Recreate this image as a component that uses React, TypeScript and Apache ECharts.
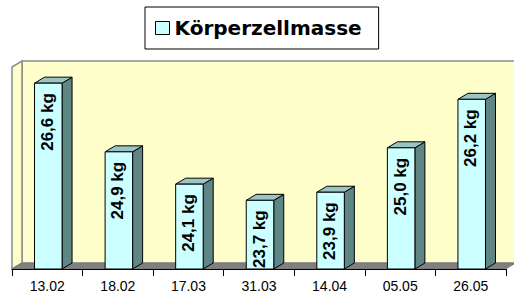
import React, { useEffect, useRef } from "react";
import * as echarts from "echarts";

const categories = ["13.02", "18.02", "17.03", "31.03", "14.04", "05.05", "26.05"];
const values = [26.6, 24.9, 24.1, 23.7, 23.9, 25.0, 26.2];
const seriesName = "Körperzellmasse";
const unit = " kg";

const Y_MIN = 22;
const Y_MAX = 27;

// layout (pixels)
const W = 514;
const H = 300;
const GRID_LEFT = 12;
const GRID_RIGHT_X = 506;
const GRID_TOP = 67;
const FLOOR_Y = 269;
const DX = 10;
const DY = 6;

const FRONT = "#CCFFFF";
const SIDE = "#5F8585";
const TOP = "#9CC4C4";
const WALL = "#FFFFCC";
const WALL_EDGE = "#8C8C8C";
const FLOOR = "#808080";

function fmt(v: number) {
  return v.toFixed(1).replace(".", ",") + unit;
}

export default function App() {
  const ref = useRef<HTMLDivElement>(null);
  useEffect(() => {
    if (!ref.current) return;
    const chart = echarts.init(ref.current, undefined, { renderer: "svg" });
    const data = values.map((v, i) => [i, v]);
    chart.setOption({
      animation: false,
      backgroundColor: "#ffffff",
      legend: {
        left: 145,
        top: 7,
        padding: [11, 17, 11, 10],
        borderColor: "#000",
        borderWidth: 1,
        icon: "rect",
        itemWidth: 14,
        itemHeight: 13,
        data: [
          {
            name: seriesName,
            itemStyle: { color: FRONT, borderColor: "#000", borderWidth: 1 },
          },
        ],
        textStyle: {
          fontFamily: "DejaVu Sans",
          fontWeight: "bold",
          fontSize: 20,
          color: "#000",
        },
        selectedMode: false,
      },
      grid: {
        left: GRID_LEFT,
        right: W - GRID_RIGHT_X,
        top: GRID_TOP,
        bottom: H - FLOOR_Y,
        containLabel: false,
      },
      graphic: [
        {
          type: "rect",
          z: -10,
          shape: { x: GRID_LEFT + DX, y: GRID_TOP - DY, width: W, height: FLOOR_Y - GRID_TOP },
          style: { fill: WALL, stroke: WALL_EDGE, lineWidth: 1.5 },
        },
        {
          type: "polygon",
          z: -9,
          shape: {
            points: [
              [GRID_LEFT, GRID_TOP],
              [GRID_LEFT + DX, GRID_TOP - DY],
              [GRID_LEFT + DX, FLOOR_Y - DY],
              [GRID_LEFT, FLOOR_Y],
            ],
          },
          style: { fill: WALL, stroke: WALL_EDGE, lineWidth: 1.5 },
        },
        {
          type: "polygon",
          z: -8,
          shape: {
            points: [
              [GRID_LEFT, FLOOR_Y],
              [GRID_LEFT + DX, FLOOR_Y - DY],
              [GRID_RIGHT_X + DX, FLOOR_Y - DY],
              [GRID_RIGHT_X, FLOOR_Y],
            ],
          },
          style: { fill: FLOOR, stroke: "#707070", lineWidth: 0.5 },
        },
      ],
      xAxis: {
        type: "category",
        data: categories,
        boundaryGap: true,
        axisLine: { show: true, lineStyle: { color: "#000", width: 1 } },
        axisTick: { show: true, length: 7, lineStyle: { color: "#000" } },
        axisLabel: {
          color: "#000",
          fontFamily: "Liberation Sans",
          fontSize: 14,
          margin: 10,
        },
        splitLine: { show: false },
        z: 5,
      },
      yAxis: {
        type: "value",
        min: Y_MIN,
        max: Y_MAX,
        show: false,
        splitLine: { show: false },
      },
      series: [
        {
          name: seriesName,
          type: "custom",
          clip: true,
          z: 3,
          itemStyle: { color: FRONT, borderColor: "#000", borderWidth: 1 },
          data,
          encode: { x: 0, y: 1 },
          renderItem: (params: any, api: any) => {
            const i = api.value(0);
            const v = api.value(1);
            const top = api.coord([i, v]);
            const base = api.coord([i, Y_MIN]);
            const band = api.size([1, 0])[0];
            const w = band * 0.39;
            const cx = top[0] + 1;
            const x0 = cx - w / 2;
            const x1 = cx + w / 2;
            const y0 = top[1];
            const y1 = base[1];
            const stroke = { stroke: "#000", lineWidth: 1 };
            return {
              type: "group",
              children: [
                {
                  type: "polygon",
                  shape: { points: [[x1, y0], [x1 + DX, y0 - DY], [x1 + DX, y1 - DY], [x1, y1]] },
                  style: { fill: SIDE, ...stroke },
                },
                {
                  type: "polygon",
                  shape: { points: [[x0, y0], [x0 + DX, y0 - DY], [x1 + DX, y0 - DY], [x1, y0]] },
                  style: { fill: TOP, ...stroke },
                },
                {
                  type: "rect",
                  shape: { x: x0, y: y0, width: w, height: y1 - y0 },
                  style: { fill: FRONT, ...stroke },
                },
                {
                  type: "text",
                  x: cx - 1,
                  y: y0 + 10,
                  rotation: Math.PI / 2,
                  style: {
                    text: fmt(v),
                    fill: "#000",
                    fontFamily: "Liberation Sans",
                    fontWeight: "bold",
                    fontSize: 17,
                    align: "right",
                    verticalAlign: "middle",
                  },
                },
              ],
            };
          },
        },
      ],
    });
    return () => chart.dispose();
  }, []);
  return (
    <div
      ref={ref}
      style={{ position: "fixed", left: 0, top: 0, width: W, height: H }}
    />
  );
}
